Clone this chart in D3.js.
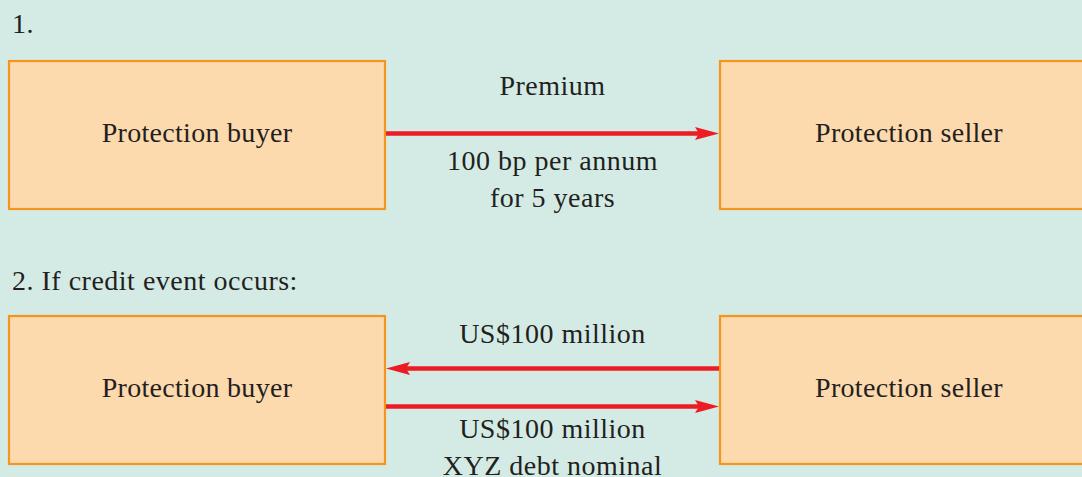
<!DOCTYPE html>
<html><head><meta charset="utf-8">
<script src="https://cdn.jsdelivr.net/npm/d3@7/dist/d3.min.js"></script>
<style>html,body{margin:0;padding:0;background:#d4ebe5;overflow:hidden}</style>
</head><body>
<svg id="c" width="1082" height="477"></svg>
<script>
// ---- data ----
const sections = ["1.", "2. If credit event occurs:"];
const parties = ["Protection buyer", "Protection seller"];
// flows: section index, direction (1 = buyer->seller, -1 = seller->buyer), lane
const flowSection = [0, 1, 1];
const flowDirection = [1, -1, 1];
const flowLane = [0, -1, 1];
// labels: section index, lines, above(-1)/below(1)
const labelSection = [0, 0, 1, 1];
const labelLines = [["Premium"], ["100 bp per annum", "for 5 years"], ["US$100 million"], ["US$100 million", "XYZ debt nominal"]];
const labelSide = [-1, 1, -1, 1];

// ---- layout ----
const W = 1082, H = 477;
const font = "'Liberation Serif', 'Times New Roman', serif";
const textColor = "#231f20";
const svg = d3.select("#c");
svg.append("rect").attr("width", W).attr("height", H).attr("fill", "#d4ebe5");

const xBox = d3.scaleOrdinal().domain(parties).range([9, 720]);
const wBox = d3.scaleOrdinal().domain(parties).range([376, 378]);
const ySection = d3.scaleOrdinal().domain([0, 1]).range([61, 316]);
const boxH = 148;
const titleY = d3.scaleOrdinal().domain([0, 1]).range([33, 290]);

const g = svg.append("g");
sections.forEach((s, i) => {
  g.append("text").attr("x", 12).attr("y", titleY(i))
    .attr("font-family", font).attr("font-size", 28).attr("letter-spacing", 0.5)
    .attr("fill", textColor).text(s);
  parties.forEach(p => {
    g.append("rect").attr("x", xBox(p)).attr("y", ySection(i))
      .attr("width", wBox(p)).attr("height", boxH)
      .attr("fill", "#fdd9ae").attr("stroke", "#f7941d").attr("stroke-width", 2.2);
    g.append("text").attr("x", xBox(p) + wBox(p) / 2).attr("y", ySection(i) + boxH / 2 + 7)
      .attr("text-anchor", "middle").attr("font-family", font).attr("font-size", 28)
      .attr("letter-spacing", 0.3).attr("fill", textColor).text(p);
  });
});

const xL = xBox(parties[0]) + wBox(parties[0]) + 1; // 386
const xR = xBox(parties[1]) - 1; // 719
const midX = (xL + xR) / 2;
const laneGap = 19;
const red = "#ed1c24";

flowSection.forEach((s, k) => {
  const y = ySection(s) + boxH / 2 + flowLane[k] * laneGap + (s === 1 ? -2.5 : -1.5);
  const dir = flowDirection[k];
  const tip = dir > 0 ? xR : xL;
  const start = dir > 0 ? xL : xR;
  const headLen = 24, headHalf = 6.5, notch = 4;
  g.append("line").attr("x1", start).attr("x2", tip - dir * (headLen - notch))
    .attr("y1", y).attr("y2", y).attr("stroke", red).attr("stroke-width", 4.5);
  g.append("path").attr("d", d3.line()([
    [tip, y], [tip - dir * headLen, y - headHalf], [tip - dir * (headLen - notch), y], [tip - dir * headLen, y + headHalf]
  ]) + "Z").attr("fill", red);
});

const labelBase = [95, 170, 343, 438];
const lineGap = 37;
labelSection.forEach((s, k) => {
  labelLines[k].forEach((t, j) => {
    g.append("text").attr("x", midX).attr("y", labelBase[k] + j * lineGap)
      .attr("text-anchor", "middle").attr("font-family", font).attr("font-size", 28)
      .attr("letter-spacing", 0.5).attr("fill", textColor).text(t);
  });
});
</script>
</body></html>
